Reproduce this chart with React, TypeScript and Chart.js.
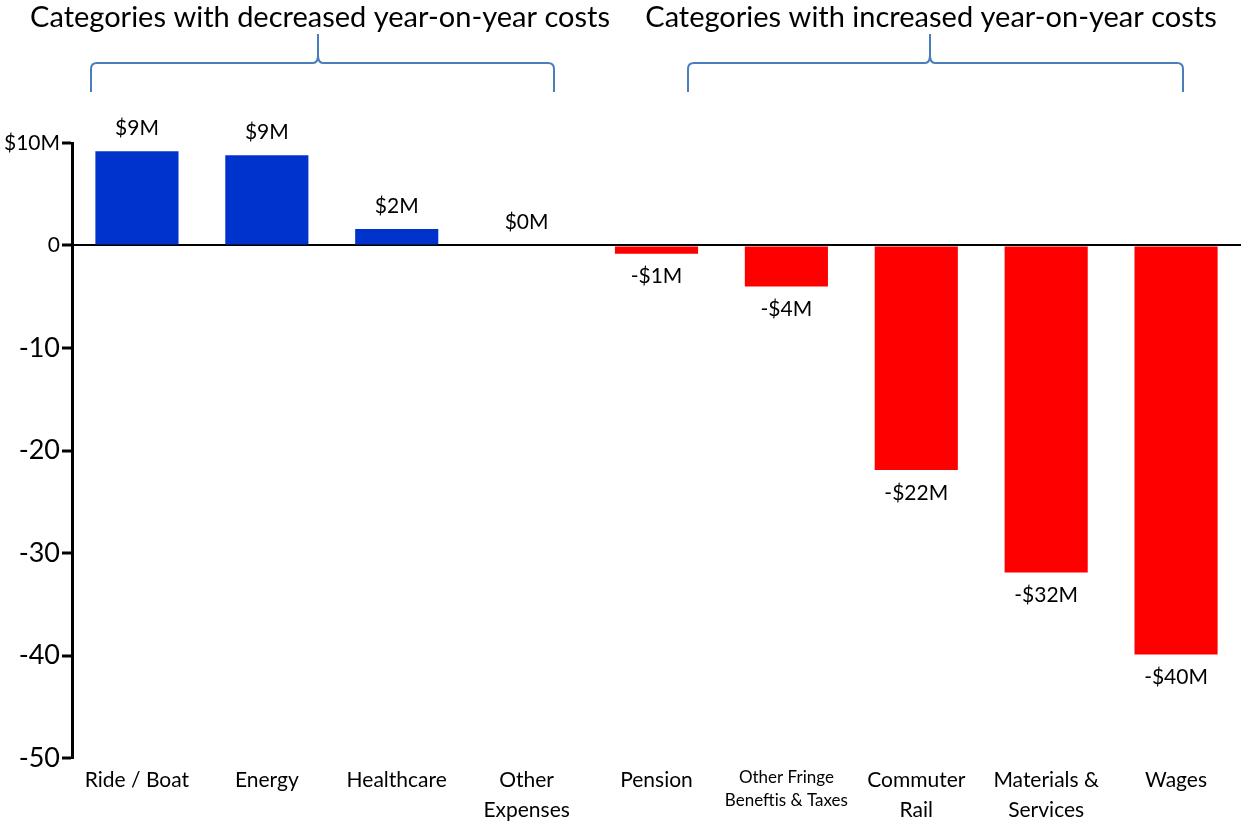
import React, { useEffect, useRef } from "react";
import { Chart, registerables } from "chart.js";

Chart.register(...registerables);

const categories: (string | string[])[] = [
  "Ride / Boat",
  "Energy",
  "Healthcare",
  ["Other", "Expenses"],
  "Pension",
  ["Other Fringe", "Beneftis & Taxes"],
  ["Commuter", "Rail"],
  ["Materials &", "Services"],
  "Wages",
];
const values = [9.2, 8.8, 1.6, 0, -0.8, -4.0, -21.9, -31.9, -39.9];
const barColors = ["#0033cc", "#0033cc", "#0033cc", "#0033cc", "#ff0000", "#ff0000", "#ff0000", "#ff0000", "#ff0000"];
const yTicks = [10, 0, -10, -20, -30, -40, -50];
const groupTitles = ["Categories with decreased year-on-year costs", "Categories with increased year-on-year costs"];

const FONT = "Lato, 'Open Sans', sans-serif";

function fmt(v: number) {
  const r = Math.round(v);
  return r < 0 ? `-$${Math.abs(r)}M` : `$${r}M`;
}

const decorPlugin = {
  id: "decor",
  afterDatasetsDraw(chart: any) {
    const { ctx } = chart;
    const meta = chart.getDatasetMeta(0);
    ctx.save();
    ctx.fillStyle = "#000";
    ctx.font = `21px ${FONT}`;
    ctx.textAlign = "center";
    ctx.textBaseline = "middle";
    meta.data.forEach((bar: any, i: number) => {
      const v = values[i];
      const y = v >= 0 ? bar.y - 23 : bar.y + 23;
      ctx.fillText(fmt(v), bar.x, y);
    });

    // group titles
    ctx.font = `29px ${FONT}`;
    ctx.fillText(groupTitles[0], 320, 18);
    ctx.fillText(groupTitles[1], 931, 18);

    // braces
    ctx.strokeStyle = "#4a7ebb";
    ctx.lineWidth = 2;
    const brace = (x1: number, xm: number, x2: number) => {
      const yh = 63, yb = 92, yt = 34, r = 6;
      ctx.beginPath();
      ctx.moveTo(x1, yb);
      ctx.lineTo(x1, yh + r);
      ctx.quadraticCurveTo(x1, yh, x1 + r, yh);
      ctx.lineTo(xm - 5, yh);
      ctx.quadraticCurveTo(xm, yh, xm, yh - 8);
      ctx.lineTo(xm, yt);
      ctx.moveTo(xm, yh - 8);
      ctx.quadraticCurveTo(xm, yh, xm + 5, yh);
      ctx.lineTo(x2 - r, yh);
      ctx.quadraticCurveTo(x2, yh, x2, yh + r);
      ctx.lineTo(x2, yb);
      ctx.stroke();
    };
    brace(91, 318, 554);
    brace(688, 930, 1183);
    ctx.restore();
  },
};

export default function App() {
  const ref = useRef<HTMLCanvasElement>(null);
  useEffect(() => {
    if (!ref.current) return;
    const chart = new Chart(ref.current, {
      type: "bar",
      data: {
        labels: categories,
        datasets: [
          {
            data: values,
            backgroundColor: barColors,
            borderWidth: 0,
            categoryPercentage: 1,
            barPercentage: 0.64,
          },
        ],
      },
      options: {
        animation: false,
        responsive: false,
        maintainAspectRatio: false,
        layout: { padding: { top: 143, right: 0, left: 0, bottom: 0 } },
        plugins: { legend: { display: false }, tooltip: { enabled: false }, title: { display: false } },
        scales: {
          x: {
            grid: { display: false },
            border: { display: false },
            ticks: {
              color: "#000",
              maxRotation: 0,
              autoSkip: false,
              padding: 0,
              font: (c: any) => ({ family: FONT, size: c.index === 5 ? 17 : 21, lineHeight: c.index === 5 ? 1.35 : 1.4 }),
            },
            afterFit: (s: any) => { s.height = 63; },
          },
          y: {
            min: -50,
            max: 10,
            afterBuildTicks: (s: any) => { s.ticks = yTicks.map((v) => ({ value: v })); },
            border: { display: true, color: "#000", width: 3 },
            grid: {
              color: (c: any) => (c.tick && c.tick.value === 0 ? "#000" : "rgba(0,0,0,0)"),
              lineWidth: 2,
              tickColor: "#000",
              tickLength: 10,
              tickWidth: 3,
              drawOnChartArea: true,
            },
            ticks: {
              color: "#000",
              padding: 2,
              font: (c: any) => ({ family: FONT, size: c.tick && (c.tick.value === 10 || c.tick.value === 0) ? 21 : 27 }),
              callback: (v: any) => (v === 10 ? "$10M" : String(v)),
            },
            afterFit: (s: any) => { s.width = 72; },
          },
        },
      },
      plugins: [decorPlugin],
    });
    return () => chart.destroy();
  }, []);
  return (
    <div style={{ position: "fixed", left: 0, top: 0, width: 1241, height: 821, background: "#fff" }}>
      <canvas ref={ref} width={1241} height={821} style={{ width: 1241, height: 821 }} />
    </div>
  );
}
